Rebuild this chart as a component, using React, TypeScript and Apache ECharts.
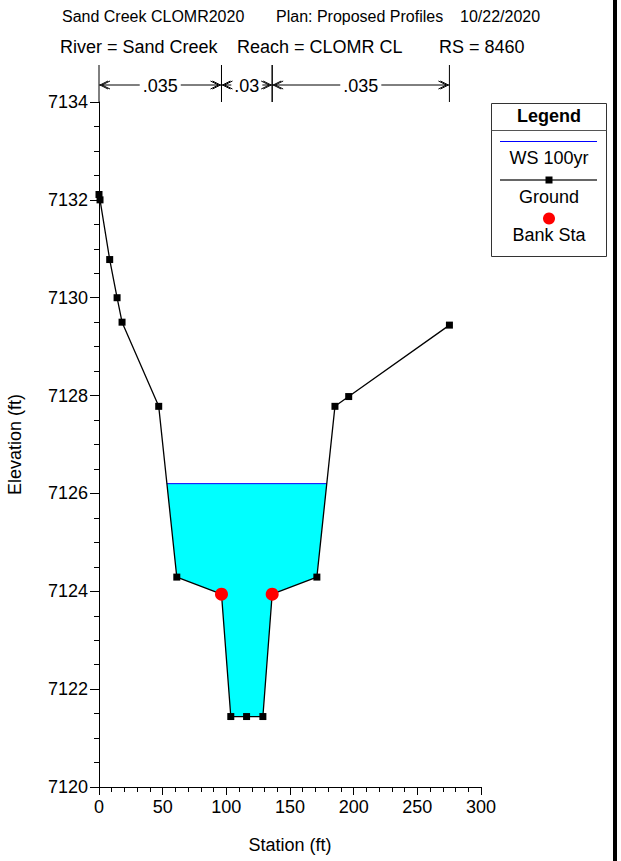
import React, { useEffect, useRef } from "react";
import * as echarts from "echarts";

// ---- data ----
const stations = [0, 0.8, 8.4, 14.2, 18.1, 46.9, 61.1, 96.2, 103.5, 115.9, 128.7, 136, 171.1, 185.3, 196.1, 275.2];
const elevations = [7132.11, 7132.0, 7130.78, 7130.0, 7129.5, 7127.78, 7124.29, 7123.94, 7121.44, 7121.44, 7121.44, 7123.94, 7124.29, 7127.78, 7127.98, 7129.44];
const bankStations = [96.2, 136];
const bankElevations = [7123.94, 7123.94];
const wsElevation = 7126.2;
const nBreaks = [0, 96.2, 136, 275.2];
const nValues = [".035", ".03", ".035"];
const xTicks = { min: 0, max: 300, interval: 50 };
const yTicks = { min: 7120, max: 7134, interval: 2 };
const titleLine1 = ["Sand Creek CLOMR2020", "Plan: Proposed Profiles", "10/22/2020"];
const titleLine2 = ["River = Sand Creek", "Reach = CLOMR CL", "RS = 8460"];
const legendItems = ["WS 100yr", "Ground", "Bank Sta"];

const FONT = '"Liberation Sans", Arial, sans-serif';

function waterPolygon(st: number[], el: number[], ws: number): number[][] {
  const pts: number[][] = [];
  let inside = false;
  let done = false;
  for (let i = 0; i < st.length - 1 && !done; i++) {
    const a = el[i], b = el[i + 1];
    if (!inside && a >= ws && b < ws) {
      const t = (a - ws) / (a - b);
      pts.push([st[i] + t * (st[i + 1] - st[i]), ws]);
      inside = true;
      pts.push([st[i + 1], b]);
    } else if (inside) {
      if (b < ws) {
        pts.push([st[i + 1], b]);
      } else {
        const t = (ws - a) / (b - a);
        pts.push([st[i] + t * (st[i + 1] - st[i]), ws]);
        done = true;
      }
    }
  }
  return pts;
}

function measure(text: string, font: string): number {
  const c = document.createElement("canvas").getContext("2d");
  if (!c) return text.length * 9;
  c.font = font;
  return c.measureText(text).width;
}

export default function App() {
  const ref = useRef<HTMLDivElement>(null);
  useEffect(() => {
    if (!ref.current) return;
    const chart = echarts.init(ref.current, undefined, { renderer: "svg" });
    const poly = waterPolygon(stations, elevations, wsElevation);
    const wsLeft = poly[0][0];
    const wsRight = poly[poly.length - 1][0];
    const ground = stations.map((s, i) => [s, elevations[i]]);
    const banks = bankStations.map((s, i) => [s, bankElevations[i]]);
    const nData = nValues.map((_, i) => [nBreaks[i], nBreaks[i + 1], yTicks.max, i]);

    const axisLabel = { color: "#000", fontSize: 18, fontFamily: FONT, formatter: (v: number) => String(v) };

    const option: any = {
      animation: false,
      backgroundColor: "#fff",
      grid: { left: 99, top: 102, right: 140, bottom: 74, containLabel: false, outerBoundsMode: "none" },
      xAxis: {
        type: "value",
        min: xTicks.min,
        max: xTicks.max,
        interval: xTicks.interval,
        name: "Station (ft)",
        nameLocation: "middle",
        nameGap: 49,
        nameTextStyle: { color: "#000", fontSize: 18, fontFamily: FONT },
        axisLine: { show: true, onZero: false, lineStyle: { color: "#000", width: 1 } },
        axisTick: { show: true, length: 8, lineStyle: { color: "#000" } },
        minorTick: { show: true, splitNumber: 5, length: 5, lineStyle: { color: "#000" } },
        splitLine: { show: false },
        axisLabel: { ...axisLabel, margin: 11 },
      },
      yAxis: {
        type: "value",
        min: yTicks.min,
        max: yTicks.max,
        interval: yTicks.interval,
        name: "Elevation (ft)",
        nameLocation: "middle",
        nameGap: 75,
        nameTextStyle: { color: "#000", fontSize: 18, fontFamily: FONT },
        axisLine: { show: true, onZero: false, lineStyle: { color: "#000", width: 1 } },
        axisTick: { show: true, length: 9, lineStyle: { color: "#000" } },
        minorTick: { show: true, splitNumber: 4, length: 5, lineStyle: { color: "#000" } },
        splitLine: { show: false },
        axisLabel: { ...axisLabel, margin: 11 },
      },
      series: [
        {
          type: "custom",
          name: "fill",
          silent: true,
          z: 1,
          data: [[wsLeft, wsElevation]],
          renderItem: (params: any, api: any) => ({
            type: "polygon",
            shape: { points: poly.map((p) => api.coord(p)) },
            style: { fill: "#00FFFF", stroke: "none" },
          }),
        },
        {
          type: "line",
          name: "WS 100yr",
          z: 2,
          silent: true,
          symbol: "none",
          data: [[wsLeft, wsElevation], [wsRight, wsElevation]],
          lineStyle: { color: "#0000FF", width: 1 },
        },
        {
          type: "line",
          name: "Ground",
          z: 3,
          silent: true,
          symbol: "rect",
          symbolSize: 7,
          data: ground,
          lineStyle: { color: "#000", width: 1.3 },
          itemStyle: { color: "#000" },
        },
        {
          type: "scatter",
          name: "Bank Sta",
          z: 4,
          silent: true,
          symbol: "circle",
          symbolSize: 13,
          data: banks,
          itemStyle: { color: "#FF0000", opacity: 1, borderWidth: 0 },
        },
        {
          type: "custom",
          name: "n-values",
          silent: true,
          clip: false,
          z: 5,
          encode: { x: [0, 1], y: 2 },
          data: nData,
          renderItem: (params: any, api: any) => {
            const idx = api.value(3);
            const x0 = api.coord([api.value(0), yTicks.max])[0];
            const x1 = api.coord([api.value(1), yTicks.max])[0];
            const top = params.coordSys.y;
            const lineTop = top - 37;
            const ay = top - 17;
            const label = nValues[idx];
            const font = `18px ${FONT}`;
            const w = measure(label, font);
            const cx = (x0 + x1) / 2;
            const tl = cx - w / 2 - 3;
            const tr = cx + w / 2 + 3;
            const stroke = { stroke: "#000", lineWidth: 1, fill: "none" };
            const head = (tip: number, dir: number, off: number) => ({
              type: "polyline",
              shape: { points: [[tip + dir * (8 + off), ay - 4], [tip + dir * off, ay], [tip + dir * (8 + off), ay + 4]] },
              style: stroke,
            });
            return {
              type: "group",
              children: [
                { type: "line", shape: { x1: x0, y1: lineTop, x2: x0, y2: top }, style: stroke },
                { type: "line", shape: { x1: x1, y1: lineTop, x2: x1, y2: top }, style: stroke },
                { type: "line", shape: { x1: x0, y1: ay, x2: Math.max(x0, tl), y2: ay }, style: stroke },
                { type: "line", shape: { x1: Math.min(x1, tr), y1: ay, x2: x1, y2: ay }, style: stroke },
                head(x0 + 1, 1, 0),
                head(x0 + 1, 1, 2),
                head(x1 - 1, -1, 0),
                head(x1 - 1, -1, 2),
                {
                  type: "text",
                  style: { text: label, x: cx, y: ay + 1, align: "center", verticalAlign: "middle", font, fill: "#000" },
                },
              ],
            };
          },
        },
      ],
      graphic: [
        // titles
        { type: "text", left: 62, top: 8, style: { text: titleLine1[0], font: `16px ${FONT}`, fill: "#000" } },
        { type: "text", left: 276, top: 8, style: { text: titleLine1[1], font: `16px ${FONT}`, fill: "#000" } },
        { type: "text", left: 460, top: 8, style: { text: titleLine1[2], font: `16px ${FONT}`, fill: "#000" } },
        { type: "text", left: 60, top: 38, style: { text: titleLine2[0], font: `18px ${FONT}`, fill: "#000" } },
        { type: "text", left: 237, top: 38, style: { text: titleLine2[1], font: `18px ${FONT}`, fill: "#000" } },
        { type: "text", left: 439, top: 38, style: { text: titleLine2[2], font: `18px ${FONT}`, fill: "#000" } },
        // right frame bar
        { type: "rect", shape: { x: 613, y: 0, width: 4, height: 861 }, style: { fill: "#000" } },
        // legend box
        {
          type: "group",
          children: [
            { type: "rect", shape: { x: 491.5, y: 103.5, width: 115, height: 153 }, style: { fill: "#fff", stroke: "#333", lineWidth: 1 } },
            { type: "text", style: { text: "Legend", x: 549, y: 116, align: "center", verticalAlign: "middle", font: `bold 18px ${FONT}`, fill: "#000" } },
            { type: "line", shape: { x1: 491.5, y1: 130.5, x2: 606.5, y2: 130.5 }, style: { stroke: "#555", lineWidth: 1 } },
            { type: "line", shape: { x1: 500, y1: 141.5, x2: 597, y2: 141.5 }, style: { stroke: "#0000FF", lineWidth: 1 } },
            { type: "text", style: { text: legendItems[0], x: 549, y: 158, align: "center", verticalAlign: "middle", font: `18px ${FONT}`, fill: "#000" } },
            { type: "line", shape: { x1: 500, y1: 180, x2: 597, y2: 180 }, style: { stroke: "#333", lineWidth: 1.3 } },
            { type: "rect", shape: { x: 545.5, y: 176.5, width: 7, height: 7 }, style: { fill: "#000" } },
            { type: "text", style: { text: legendItems[1], x: 549, y: 197, align: "center", verticalAlign: "middle", font: `18px ${FONT}`, fill: "#000" } },
            { type: "circle", shape: { cx: 549, cy: 218.5, r: 6 }, style: { fill: "#FF0000" } },
            { type: "text", style: { text: legendItems[2], x: 549, y: 235, align: "center", verticalAlign: "middle", font: `18px ${FONT}`, fill: "#000" } },
          ],
        },
      ],
    };
    chart.setOption(option);
    return () => chart.dispose();
  }, []);
  return (
    <div
      ref={ref}
      style={{ position: "absolute", left: 0, top: 0, width: 621, height: 861, background: "#fff" }}
    />
  );
}
